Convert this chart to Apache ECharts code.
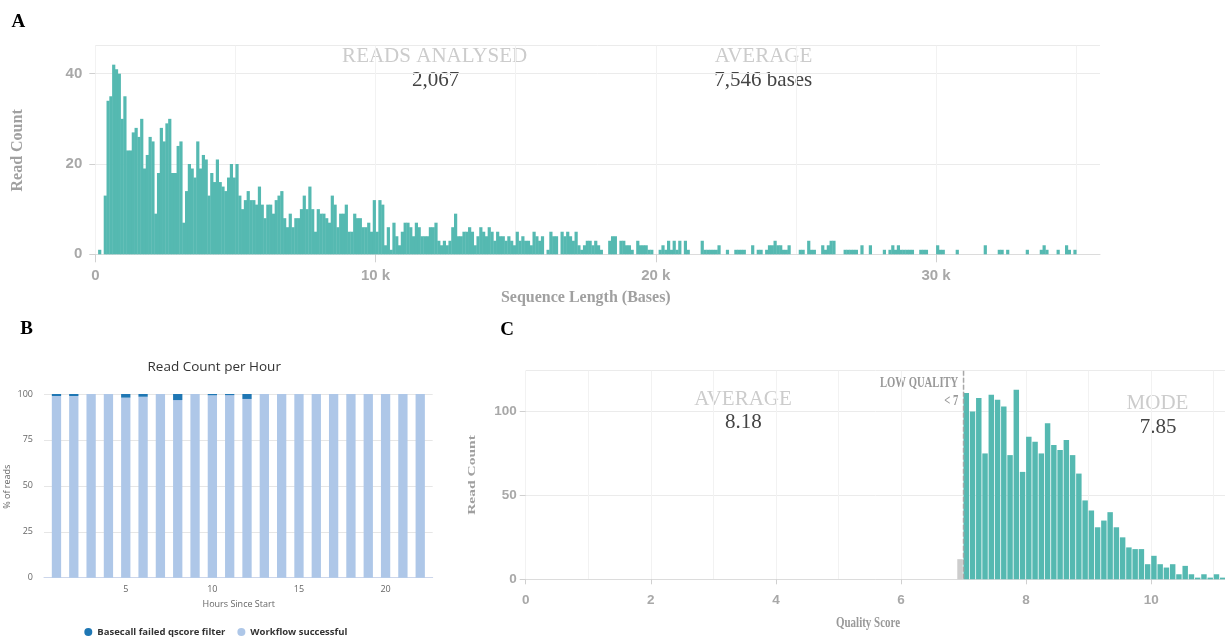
<!DOCTYPE html>
<html><head><meta charset="utf-8">
<script src="https://cdn.jsdelivr.net/npm/echarts@6/dist/echarts.min.js"></script>
<style>html,body{margin:0;padding:0;background:#fff}#c{width:1225px;height:637px}</style>
</head><body><div id="c"></div>
<script>
// ---------- Panel A: sequence length histogram ----------
const lengthBinSize = 100;
const lengthCounts = [
  0,1,0,13,34,35,42,41,40,30,
  35,23,23,27,28,26,30,19,22,26,
  25,9,18,28,25,29,30,18,18,24,
  25,7,14,20,19,17,25,19,22,21,
  13,18,16,21,16,15,14,17,20,17,
  20,13,10,12,14,12,12,11,15,11,
  8,11,11,9,12,13,14,8,6,9,
  6,8,8,10,13,10,15,10,5,10,
  9,9,8,7,13,11,6,9,9,11,
  5,5,9,8,8,6,6,7,5,12,
  5,12,11,2,6,1,7,4,2,5,
  7,7,6,4,7,6,4,4,4,6,
  6,7,3,2,3,2,3,6,9,4,
  4,5,5,6,5,2,4,6,5,4,
  6,5,3,5,4,4,3,4,3,2,
  5,3,4,3,3,2,5,4,3,4,
  0,1,5,4,4,0,5,4,5,4,
  3,5,2,1,2,3,3,2,3,2,
  1,0,0,3,4,4,0,3,3,2,
  2,1,0,3,2,2,2,1,1,0,
  0,1,2,1,3,1,3,1,3,0,
  3,1,0,0,0,0,3,1,1,1,
  1,1,2,0,0,1,0,0,1,1,
  1,1,0,0,2,0,1,1,0,1,
  2,2,3,2,2,1,1,2,0,0,
  0,1,1,0,3,1,1,0,0,2,
  1,2,3,3,0,0,0,1,1,1,
  1,1,0,2,0,0,2,0,0,0,
  0,1,0,1,2,1,2,1,1,1,
  1,1,0,0,1,1,1,0,0,0,
  2,1,1,0,0,0,0,1,0,0,
  0,0,0,0,0,0,0,2,0,0,
  0,0,1,1,0,1,0,0,0,0,
  0,0,1,0,0,0,0,1,2,1,
  0,0,0,1,0,0,2,1,0,1
];
const lengthTickLabels = [0, 10000, 20000, 30000];
const lengthCountTicks = [0, 20, 40];
const readsAnalysedLabel = 'READS ANALYSED';
const readsAnalysedValue = '2,067';
const lengthAverageLabel = 'AVERAGE';
const lengthAverageValue = '7,546 bases';

// ---------- Panel B: read count per hour ----------
const hours = [1,2,3,4,5,6,7,8,9,10,11,12,13,14,15,16,17,18,19,20,21,22];
const failedPct  = [1.1,1.1,0,0,2.0,1.5,0,3.3,0,0.7,0.6,2.7,0,0,0,0,0,0,0,0,0,0];
const successPct = [98.9,98.9,100,100,98.0,98.5,100,96.7,100,99.3,99.4,97.3,100,100,100,100,100,100,100,100,100,100];
const hourTickLabels = [5, 10, 15, 20];

// ---------- Panel C: quality score histogram ----------
const qualityBinStartTenths = 69;   // first bin starts at 6.9
const qualityBinSizeTenths = 1;     // bins of 0.1
const qualityCounts = [
  12,
  111,100,108,75,110,107,103,74,113,64,
  85,82,75,93,80,77,83,74,63,47,
  41,31,35,40,31,25,19,18,18,9,
  14,9,7,9,3,8,3,1,3,1,
  3,1
];
const qualityThreshold = 7;
const qualityTickLabels = [0, 2, 4, 6, 8, 10];
const qualityCountTicks = [0, 50, 100];
const qualityAverageValue = '8.18';
const qualityModeValue = '7.85';

// ---------- build ----------
const serif = '"Liberation Serif", "Times New Roman", serif';
const sans = '"Liberation Sans", Arial, sans-serif';
const hc = '"Open Sans", "DejaVu Sans", sans-serif';
const teal = '#55b9b1';
const failColor = '#1f77b4';
const okColor = '#aec7e8';

const lengthData = lengthCounts.map((c, i) => [i * lengthBinSize, (i + 1) * lengthBinSize, c]);
const qualityData = qualityCounts.map((c, i) => [
  (qualityBinStartTenths + i * qualityBinSizeTenths) / 10,
  (qualityBinStartTenths + (i + 1) * qualityBinSizeTenths) / 10, c]);
const lengthYMax = Math.max(...lengthCounts) * 1.1;
const qualityYMax = Math.max(...qualityCounts) * 1.1;
const okData = hours.map((h, i) => [h, 0, successPct[i]]);
const failData = hours.map((h, i) => [h, successPct[i], failedPct[i]]);

function T(text, x, y, font, fill, align, extra) {
  return Object.assign({
    type: 'text', x: x, y: y, silent: true,
    style: { text: text, font: font, fill: fill, textAlign: align || 'center', textVerticalAlign: 'middle' }
  }, extra || {});
}

function histRender(colorFn, gap, overlap) {
  return function (params, api) {
    const v = api.value(2);
    if (!(v > 0)) return;
    const cs = params.coordSys;
    const p0 = api.coord([api.value(0), v]);
    const p1 = api.coord([api.value(1), 0]);
    const right = Math.min(p1[0] - gap + overlap, cs.x + cs.width);
    if (right <= p0[0]) return;
    return {
      type: 'rect',
      shape: { x: p0[0], y: p0[1], width: right - p0[0], height: p1[1] - p0[1] },
      style: { fill: colorFn(api.value(0)) }
    };
  };
}

function stackRender(color, barPx) {
  return function (params, api) {
    const base = api.value(1), v = api.value(2);
    if (!(v > 0)) return;
    const top = api.coord([api.value(0), base + v]);
    const bot = api.coord([api.value(0), base]);
    return {
      type: 'rect',
      shape: { x: top[0] - barPx / 2, y: top[1], width: barPx, height: bot[1] - top[1] },
      style: { fill: color }
    };
  };
}

const axisLabelA = { color: '#a8a8a8', fontSize: 15, fontWeight: 'bold', fontFamily: sans };
const axisLabelC = { color: '#a8a8a8', fontSize: 13.5, fontWeight: 'bold', fontFamily: sans };
const tickOnly = (extra) => Object.assign({
  type: 'value', axisLine: { show: false }, axisLabel: { show: false }, splitLine: { show: false }
}, extra);

const option = {
  animation: false,
  backgroundColor: '#fff',
  grid: [
    { left: 95.3, top: 45.7, width: 1004.7, height: 208.6, containLabel: false, outerBoundsMode: 'none' },
    { left: 44, top: 394, width: 388.7, height: 183.7, containLabel: false, outerBoundsMode: 'none' },
    { left: 525.7, top: 370.7, width: 699.3, height: 208.6, containLabel: false, outerBoundsMode: 'none' }
  ],
  xAxis: [
    { gridIndex: 0, type: 'value', min: 0, max: 35850, interval: 5000,
      axisLine: { show: true, onZero: false, lineStyle: { color: '#dcdcdc' } },
      axisTick: { show: false },
      splitLine: { show: true, showMaxLine: false, lineStyle: { color: '#f2f2f2' } },
      axisLabel: Object.assign({ margin: 14, customValues: lengthTickLabels,
        formatter: v => lengthTickLabels.indexOf(v) < 0 ? '' : (v === 0 ? '0' : (v / 1000) + ' k') }, axisLabelA) },
    tickOnly({ gridIndex: 0, position: 'bottom', min: 0, max: 35850, interval: 10000,
      axisTick: { show: true, length: 8, customValues: lengthTickLabels, lineStyle: { color: '#d0d0d0' } } }),
    { gridIndex: 1, type: 'value', min: 0.28, max: 22.72,
      axisLine: { show: true, onZero: false, lineStyle: { color: '#ccd6eb' } },
      axisTick: { show: false }, splitLine: { show: false },
      axisLabel: { customValues: hourTickLabels, margin: 7, fontSize: 9, color: '#666', fontFamily: hc,
        formatter: v => hourTickLabels.indexOf(v) < 0 ? '' : String(v) } },
    { gridIndex: 2, type: 'value', min: 0, max: 11.18, interval: 1,
      axisLine: { show: true, onZero: false, lineStyle: { color: '#dcdcdc' } },
      axisTick: { show: false },
      splitLine: { show: true, showMaxLine: false, lineStyle: { color: '#f2f2f2' } },
      axisLabel: Object.assign({ margin: 14, customValues: qualityTickLabels,
        formatter: v => qualityTickLabels.indexOf(v) < 0 ? '' : String(v) }, axisLabelC) },
    tickOnly({ gridIndex: 2, position: 'bottom', min: 0, max: 11.18, interval: 2,
      axisTick: { show: true, length: 5, customValues: qualityTickLabels, lineStyle: { color: '#d0d0d0' } } })
  ],
  yAxis: [
    { gridIndex: 0, type: 'value', min: 0, max: lengthYMax, interval: 20,
      axisLine: { show: false }, axisTick: { show: false },
      splitLine: { show: true, lineStyle: { color: '#ebebeb' } },
      axisLabel: Object.assign({ margin: 13, showMaxLabel: false }, axisLabelA) },
    tickOnly({ gridIndex: 0, position: 'left', min: 0, max: lengthYMax, interval: 20,
      axisTick: { show: true, length: 6, customValues: lengthCountTicks, lineStyle: { color: '#d0d0d0' } } }),
    { gridIndex: 1, type: 'value', min: 0, max: 100, interval: 25,
      axisLine: { show: false }, axisTick: { show: false },
      splitLine: { show: true, lineStyle: { color: '#e6e6e6' } },
      axisLabel: { margin: 11, fontSize: 9, color: '#666', fontFamily: hc } },
    { gridIndex: 2, type: 'value', min: 0, max: qualityYMax, interval: 50,
      axisLine: { show: false }, axisTick: { show: false },
      splitLine: { show: true, lineStyle: { color: '#ebebeb' } },
      axisLabel: Object.assign({ margin: 9, showMaxLabel: false }, axisLabelC) },
    tickOnly({ gridIndex: 2, position: 'left', min: 0, max: qualityYMax, interval: 50,
      axisTick: { show: true, length: 6, customValues: qualityCountTicks, lineStyle: { color: '#d0d0d0' } } })
  ],
  legend: {
    left: 79.3, top: 622, itemWidth: 8, itemHeight: 8, itemGap: 12, icon: 'circle',
    textStyle: { fontSize: 9.5, fontWeight: 'bold', color: '#333', fontFamily: hc },
    data: ['Basecall failed qscore filter', 'Workflow successful']
  },
  series: [
    { type: 'custom', name: 'Read length', xAxisIndex: 0, yAxisIndex: 0,
      encode: { x: [0, 1], y: 2 }, data: lengthData,
      renderItem: histRender(() => teal, 0, 0.4) },
    { type: 'custom', name: 'Workflow successful', xAxisIndex: 2, yAxisIndex: 2,
      itemStyle: { color: okColor }, encode: { x: 0, y: [1, 2] }, data: okData,
      renderItem: stackRender(okColor, 9.3) },
    { type: 'custom', name: 'Basecall failed qscore filter', xAxisIndex: 2, yAxisIndex: 2,
      itemStyle: { color: failColor }, encode: { x: 0, y: [1, 2] }, data: failData,
      renderItem: stackRender(failColor, 9.3) },
    { type: 'custom', name: 'Quality', xAxisIndex: 3, yAxisIndex: 3,
      encode: { x: [0, 1], y: 2 }, data: qualityData,
      renderItem: histRender(x0 => x0 < qualityThreshold - 1e-9 ? '#cdcdcd' : teal, 0.8, 0) },
    { type: 'custom', name: 'Threshold', xAxisIndex: 3, yAxisIndex: 3,
      encode: { x: 0, y: 1 }, data: [[qualityThreshold, 0]], z: 5,
      renderItem: function (params, api) {
        const cs = params.coordSys;
        const p = api.coord([api.value(0), 0]);
        return { type: 'line', shape: { x1: p[0], y1: cs.y, x2: p[0], y2: p[1] },
          style: { stroke: '#a8a8a8', lineWidth: 1.5, lineDash: [5, 2] } };
      } }
  ],
  graphic: { elements: [
    T('A', 18.3, 21.7, 'bold 19px ' + serif, '#000'),
    T('B', 26.7, 329, 'bold 19px ' + serif, '#000'),
    T('C', 507, 330, 'bold 19px ' + serif, '#000'),
    T(readsAnalysedLabel, 434.7, 56, '21px ' + serif, '#cccccc'),
    T(readsAnalysedValue, 435.5, 80, '21px ' + serif, '#444'),
    T(lengthAverageLabel, 763.5, 56, '21px ' + serif, '#cccccc'),
    T(lengthAverageValue, 763.3, 80, '21px ' + serif, '#444'),
    T('Read Count', 18.3, 150.4, 'bold 16px ' + serif, '#a0a0a0', 'center', { rotation: Math.PI / 2 }),
    T('Sequence Length (Bases)', 585.8, 298, 'bold 16px ' + serif, '#a0a0a0'),
    T('Read Count per Hour', 214.2, 367, '13.5px ' + hc, '#333'),
    T('% of reads', 7, 486.7, '9px ' + hc, '#666', 'center', { rotation: Math.PI / 2 }),
    T('Hours Since Start', 238.7, 604.3, '9px ' + hc, '#666'),
    T('AVERAGE', 743, 399, '21px ' + serif, '#cccccc'),
    T(qualityAverageValue, 743.3, 422.5, '21px ' + serif, '#444'),
    T('MODE', 1157.5, 403, '21px ' + serif, '#cccccc'),
    T(qualityModeValue, 1158, 427.5, '21px ' + serif, '#444'),
    T('LOW QUALITY', 958.3, 383, 'bold 14px ' + serif, '#999', 'right', { scaleX: 0.76 }),
    T('< ' + qualityThreshold, 958.3, 401, 'bold 14px ' + serif, '#999', 'right', { scaleX: 0.76 }),
    T('Read Count', 472.5, 475, 'bold 15.5px ' + serif, '#a0a0a0', 'center', { rotation: Math.PI / 2, scaleY: 0.65 }),
    T('Quality Score', 868, 623.5, 'bold 15px ' + serif, '#999', 'center', { scaleX: 0.73 })
  ] }
};

const chart = echarts.init(document.getElementById('c'), null, { renderer: 'canvas' });
chart.setOption(option);
</script>
</body></html>
